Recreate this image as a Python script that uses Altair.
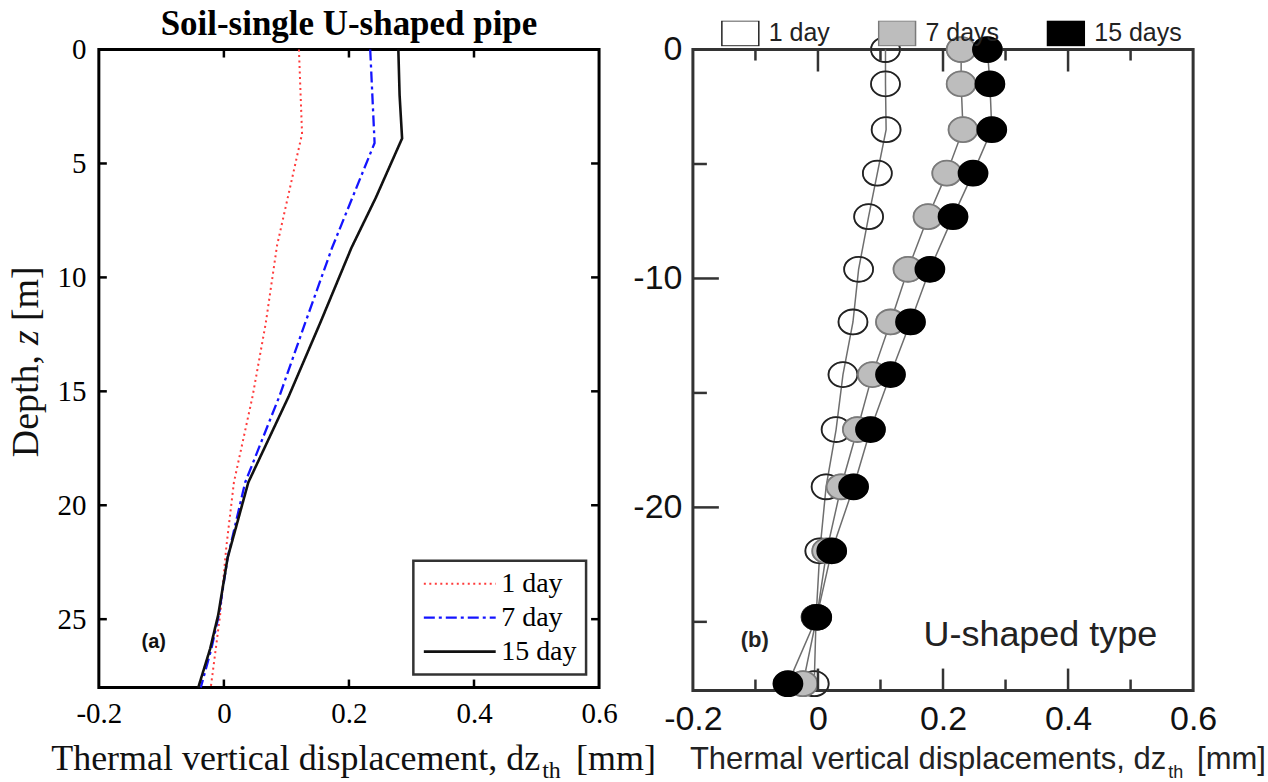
import altair as alt
import pandas as pd

# ---------------- panel (a): soil-single U-shaped pipe (lines)
a_series = ["1 day", "7 day", "15 day"]
a_z_1 = [0, 3.7, 8.6, 12.0, 15.2, 19.0, 21.8, 24.8, 26.3, 28.0]
a_x_1 = [0.120, 0.125, 0.085, 0.067, 0.046, 0.016, 0.004, -0.006, -0.013, -0.021]
a_z_7 = [0, 4.1, 8.7, 12.0, 15.2, 19.0, 22.3, 24.8, 26.3, 28.0]
a_x_7 = [0.234, 0.241, 0.173, 0.130, 0.089, 0.034, 0.006, -0.008, -0.020, -0.037]
a_z_15 = [0, 2.0, 3.9, 6.5, 8.7, 12.0, 15.2, 19.0, 22.3, 24.8, 26.3, 28.0]
a_x_15 = [0.279, 0.281, 0.285, 0.243, 0.204, 0.154, 0.104, 0.039, 0.006, -0.009, -0.022, -0.041]
a_x_ticks = [-0.2, 0, 0.2, 0.4, 0.6]
a_y_ticks = [0, 5, 10, 15, 20, 25]
a_inner_x = [0, 0.2, 0.4]
a_inner_z = [5, 10, 15, 20, 25]

# ---------------- panel (b): U-shaped type (markers)
b_series = ["1 day", "7 days", "15 days"]
b_z = [0, -1.5, -3.5, -5.4, -7.3, -9.6, -11.9, -14.2, -16.6, -19.1, -21.9, -24.8, -27.7]
b_x_1 = [0.108, 0.108, 0.109, 0.095, 0.081, 0.065, 0.056, 0.040, 0.029, 0.013, 0.003, -0.003, -0.006]
b_x_7 = [0.229, 0.229, 0.232, 0.206, 0.176, 0.144, 0.116, 0.087, 0.063, 0.037, 0.014, -0.002, -0.024]
b_x_15 = [0.271, 0.275, 0.278, 0.248, 0.216, 0.179, 0.148, 0.116, 0.084, 0.057, 0.022, -0.002, -0.048]
b_x_ticks = [-0.2, 0, 0.2, 0.4, 0.6]
b_y_ticks = [0, -10, -20]
b_major_x = [0, 0.2, 0.4]
b_minor_x = [-0.1, 0.1, 0.3, 0.5]
b_major_z = [-10, -20]
b_minor_z = [-5, -15, -25]

SERIF = "Liberation Serif"
SANS = "Liberation Sans"
W = 501
HA = 639
HB = 642

df_a = pd.concat([
    pd.DataFrame({"x": a_x_1, "z": a_z_1, "series": a_series[0]}),
    pd.DataFrame({"x": a_x_7, "z": a_z_7, "series": a_series[1]}),
    pd.DataFrame({"x": a_x_15, "z": a_z_15, "series": a_series[2]}),
])
df_b = pd.concat([
    pd.DataFrame({"x": b_x_1, "z": b_z, "series": b_series[0]}),
    pd.DataFrame({"x": b_x_7, "z": b_z, "series": b_series[1]}),
    pd.DataFrame({"x": b_x_15, "z": b_z, "series": b_series[2]}),
])


def txt(text, x, y, **mk):
    return alt.Chart(pd.DataFrame({"t": [text]})).mark_text(**mk).encode(
        text="t:N", x=alt.value(x), y=alt.value(y))


def bound(x, y):
    return alt.Chart(pd.DataFrame({"t": [0]})).mark_rule(opacity=0).encode(
        x=alt.value(x), x2=alt.value(x + 1), y=alt.value(y), y2=alt.value(y + 1))


# ---------- panel (a)
xa_scale = alt.Scale(domain=[-0.2, 0.6], nice=False, zero=False)
ya_scale = alt.Scale(domain=[0, 28], reverse=True, nice=False, zero=False)
xa_axis = alt.Axis(values=a_x_ticks, ticks=False, domain=False, grid=False, title=None,
                   labelFont=SERIF, labelFontSize=29, labelColor="black", labelPadding=12,
                   labelFlush=False, labelOverlap=False, labelExpr="'' + datum.value")
ya_axis = alt.Axis(values=a_y_ticks, ticks=False, domain=False, grid=False, title=None,
                   labelFont=SERIF, labelFontSize=29, labelColor="black", labelPadding=13,
                   labelFlush=False, labelOverlap=False)
XA = lambda f: alt.X(f, scale=xa_scale, axis=xa_axis)
YA = lambda f: alt.Y(f, scale=ya_scale, axis=ya_axis)

leg_a = alt.Legend(title=None, orient="bottom-right", offset=13, padding=9,
                   strokeColor="#333", fillColor="white", cornerRadius=0,
                   labelFont=SERIF, labelFontSize=28, labelColor="black", labelOffset=4,
                   symbolType="stroke", symbolSize=5184, symbolStrokeWidth=2.2,
                   clipHeight=28, rowPadding=6)

lines_a = alt.Chart(df_a).mark_line().encode(
    x=XA("x:Q"), y=YA("z:Q"),
    color=alt.Color("series:N", scale=alt.Scale(domain=a_series, range=["#ff3b3b", "#1414ff", "#111111"]), legend=leg_a),
    strokeDash=alt.StrokeDash("series:N", scale=alt.Scale(domain=a_series, range=[[2, 3.5], [11, 4, 3, 4], [1, 0]]), legend=leg_a),
    strokeWidth=alt.StrokeWidth("series:N", scale=alt.Scale(domain=a_series, range=[2.0, 2.6, 1.4]), legend=None),
    order=alt.Order("z:Q"),
)

df_ax = pd.DataFrame({"tx": a_inner_x})
df_az = pd.DataFrame({"tz": a_inner_z})
tk = dict(color="black", strokeWidth=2.5)
ticks_a = [
    alt.Chart(df_ax).mark_rule(**tk).encode(x=XA("tx:Q"), y=alt.value(HA), y2=alt.value(HA - 8)),
    alt.Chart(df_ax).mark_rule(**tk).encode(x=XA("tx:Q"), y=alt.value(0), y2=alt.value(8)),
    alt.Chart(df_az).mark_rule(**tk).encode(y=YA("tz:Q"), x=alt.value(0), x2=alt.value(8)),
    alt.Chart(df_az).mark_rule(**tk).encode(y=YA("tz:Q"), x=alt.value(W), x2=alt.value(W - 8)),
]

texts_a = [
    txt("Soil-single U-shaped pipe", W / 2, -15, font=SERIF, fontSize=35, fontWeight="bold",
        align="center", baseline="alphabetic", color="black"),
    txt("(a)", 55, 593, font=SANS, fontSize=20, fontWeight="bold", align="center",
        baseline="middle", color="#111"),
    txt("Thermal vertical displacement, dz", 442, 722, font=SERIF, fontSize=36,
        align="right", baseline="alphabetic", color="#111"),
    txt("th", 444, 730, font=SERIF, fontSize=24, align="left", baseline="alphabetic", color="#111"),
    txt("[mm]", 478, 722, font=SERIF, fontSize=36, align="left", baseline="alphabetic", color="#111"),
    txt("Depth,", -72, 306, font=SERIF, fontSize=38, angle=270, align="right",
        baseline="middle", color="#111"),
    txt("z", -72, 296, font=SERIF, fontSize=38, fontStyle="italic", angle=270, align="left",
        baseline="middle", color="#111"),
    txt("[m]", -72, 272, font=SERIF, fontSize=38, angle=270, align="left",
        baseline="middle", color="#111"),
]

panel_a = alt.layer(lines_a, *ticks_a, *texts_a, bound(-97, -47)).properties(
    width=W, height=HA, view=alt.ViewBackground(stroke="black", strokeWidth=3))

# ---------- panel (b)
xb_scale = alt.Scale(domain=[-0.2, 0.6], nice=False, zero=False)
yb_scale = alt.Scale(domain=[-28, 0], nice=False, zero=False)
xb_axis = alt.Axis(values=b_x_ticks, ticks=False, domain=False, grid=False, title=None,
                   labelFont=SANS, labelFontSize=34, labelColor="#111", labelPadding=12,
                   labelFlush=False, labelOverlap=False, labelExpr="'' + datum.value")
yb_axis = alt.Axis(values=b_y_ticks, ticks=False, domain=False, grid=False, title=None,
                   labelFont=SANS, labelFontSize=34, labelColor="#111", labelPadding=11,
                   labelFlush=False, labelOverlap=False, labelExpr="'' + datum.value")
XB = lambda f: alt.X(f, scale=xb_scale, axis=xb_axis)
YB = lambda f: alt.Y(f, scale=yb_scale, axis=yb_axis)

leg_b = alt.Legend(title=None, orient="none", legendX=28, legendY=-29, direction="horizontal",
                   symbolType="M-1,-0.68H1V0.68H-1Z", symbolSize=1369,
                   symbolStrokeColor="#9a9a9a", symbolStrokeWidth=1.5,
                   labelFont=SANS, labelFontSize=25, labelColor="#222", labelOffset=9,
                   columnPadding=47, clipHeight=25, padding=0, strokeColor="transparent")

ELLIPSE = "M-1,0A1,0.86,0,1,0,1,0A1,0.86,0,1,0,-1,0Z"
fill_scale = alt.Scale(domain=b_series, range=["rgba(255,255,255,0)", "#bdbdbd", "#000000"])
lines_b = alt.Chart(df_b).mark_line(color="#6e6e6e", strokeWidth=1.5).encode(
    x=XB("x:Q"), y=YB("z:Q"), detail="series:N", order=alt.Order("z:Q"))
# layer that carries the legend (drawn underneath the markers)
legend_carrier = alt.Chart(df_b).mark_point(filled=True, shape=ELLIPSE, size=841, opacity=1,
                                             stroke="#9a9a9a", strokeWidth=1.5).encode(
    x=XB("x:Q"), y=YB("z:Q"),
    fill=alt.Fill("series:N", scale=fill_scale, legend=leg_b),
)
points_b = alt.Chart(df_b).mark_point(filled=True, shape=ELLIPSE, size=841, opacity=1,
                                       strokeWidth=1.8).encode(
    x=XB("x:Q"), y=YB("z:Q"),
    fill=alt.Fill("series:N", scale=fill_scale, legend=None),
    stroke=alt.Stroke("series:N", scale=alt.Scale(domain=b_series, range=["#222222", "#7a7a7a", "#000000"]), legend=None),
)

df_bmx = pd.DataFrame({"tx": b_major_x})
df_bnx = pd.DataFrame({"tx": b_minor_x})
df_bmz = pd.DataFrame({"tz": b_major_z})
df_bnz = pd.DataFrame({"tz": b_minor_z})
tkb = dict(color="#333", strokeWidth=2.5)
ticks_b = [
    alt.Chart(df_bmx).mark_rule(**tkb).encode(x=XB("tx:Q"), y=alt.value(HB), y2=alt.value(HB - 22)),
    alt.Chart(df_bnx).mark_rule(**tkb).encode(x=XB("tx:Q"), y=alt.value(HB), y2=alt.value(HB - 11)),
    alt.Chart(df_bmx).mark_rule(**tkb).encode(x=XB("tx:Q"), y=alt.value(0), y2=alt.value(22)),
    alt.Chart(df_bnx).mark_rule(**tkb).encode(x=XB("tx:Q"), y=alt.value(0), y2=alt.value(11)),
    alt.Chart(df_bmz).mark_rule(**tkb).encode(y=YB("tz:Q"), x=alt.value(0), x2=alt.value(26)),
    alt.Chart(df_bnz).mark_rule(**tkb).encode(y=YB("tz:Q"), x=alt.value(0), x2=alt.value(14)),
]

texts_b = [
    txt("U-shaped type", 348, 586, font=SANS, fontSize=36, align="center", baseline="middle", color="#222"),
    txt("(b)", 62, 591, font=SANS, fontSize=22, fontWeight="bold", align="center", baseline="middle", color="#222"),
    txt("Thermal vertical displacements, dz", 474, 721, font=SANS, fontSize=31,
        align="right", baseline="alphabetic", color="#222"),
    txt("th", 476, 730, font=SANS, fontSize=18, align="left", baseline="alphabetic", color="#222"),
    txt("[mm]", 505, 721, font=SANS, fontSize=31, align="left", baseline="alphabetic", color="#222"),
]

panel_b = alt.layer(lines_b, legend_carrier, points_b, *ticks_b, *texts_b, bound(0, -47)).properties(
    width=W, height=HB, view=alt.ViewBackground(stroke="#333", strokeWidth=3))

chart = alt.hconcat(panel_a, panel_b, spacing=94, bounds="flush").resolve_scale(
    color="independent", strokeDash="independent", strokeWidth="independent",
    fill="independent", stroke="independent", x="independent", y="independent"
).resolve_legend(
    color="independent", strokeDash="independent", strokeWidth="independent",
    fill="independent", stroke="independent"
).properties(
    padding={"left": 0, "top": 0, "right": 0, "bottom": 0}, background="white"
).configure_legend(strokeWidth=2.5)

chart.save("out.html", embed_options={"renderer": "svg", "actions": False})
